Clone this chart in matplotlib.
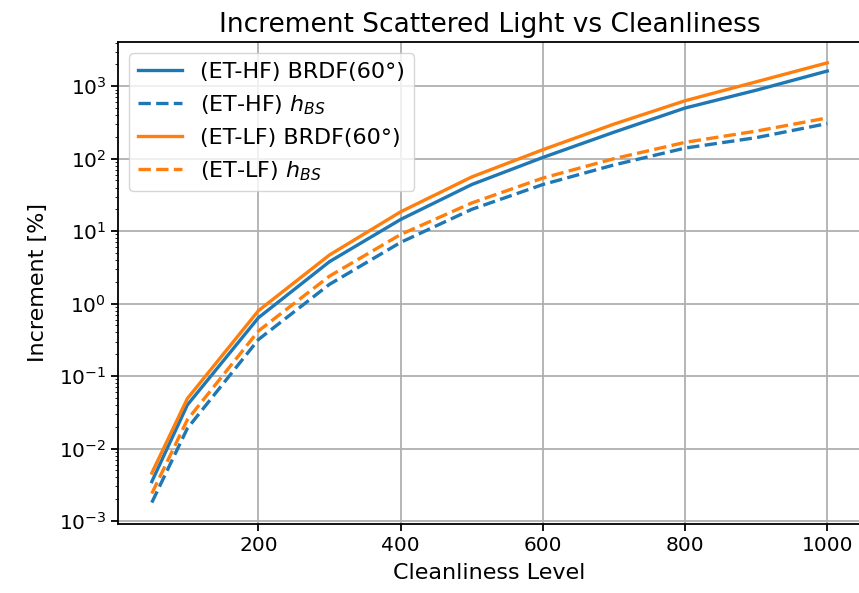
from matplotlib import pyplot as plt

# Cleanliness levels
x = [50, 100, 200, 300, 400, 500, 600, 700, 800, 900, 1000]

# increments [%]
hf_brdf = [3.5e-3, 0.040, 0.64, 3.8, 14.5, 44, 104, 232, 500, 880, 1620]
hf_hbs = [1.8e-3, 0.019, 0.32, 1.85, 7.0, 20, 44, 82, 140, 195, 305]
lf_brdf = [4.6e-3, 0.049, 0.80, 4.7, 18.5, 56, 133, 300, 630, 1150, 2100]
lf_hbs = [2.4e-3, 0.025, 0.42, 2.4, 9.0, 24.5, 54, 100, 168, 240, 365]

blue = '#1f77b4'
orange = '#ff7f0e'

fig = plt.figure(figsize=(8.59, 5.93), dpi=100)
ax = fig.add_axes([0.1374, 0.1164, 0.8650, 0.8128])

ax.plot(x, hf_brdf, color=blue, lw=2.4, label='(ET-HF) BRDF(60°)')
ax.plot(x, hf_hbs, color=blue, lw=2.4, ls='--', label='(ET-HF) $h_{BS}$')
ax.plot(x, lf_brdf, color=orange, lw=2.4, label='(ET-LF) BRDF(60°)')
ax.plot(x, lf_hbs, color=orange, lw=2.4, ls='--', label='(ET-LF) $h_{BS}$')

ax.set_yscale('log')
ax.set_xlim(2.5, 1047.5)
ax.set_ylim(10**-3.04, 10**3.61)
ax.grid(True, color='#b0b0b0', lw=1.3)
ax.tick_params(labelsize=14.5, width=1.3, length=5)
for s in ax.spines.values():
    s.set_linewidth(1.3)

ax.set_title('Increment Scattered Light vs Cleanliness', fontsize=19, pad=7)
ax.set_xlabel('Cleanliness Level', fontsize=16, labelpad=6)
ax.set_ylabel('Increment [%]', fontsize=16, labelpad=8)
ax.legend(loc='upper left', fontsize=16)

fig.savefig('out.png', dpi=100)
